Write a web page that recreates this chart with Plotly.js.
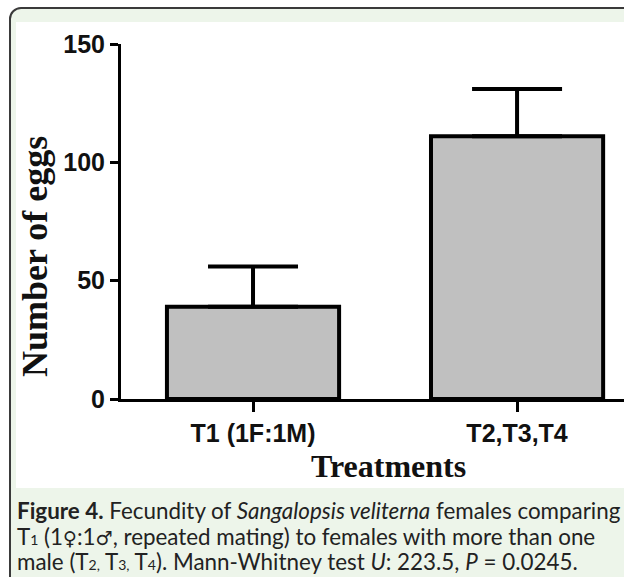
<!DOCTYPE html>
<html>
<head>
<meta charset="utf-8">
<script src="https://cdn.plot.ly/plotly-3.0.1.min.js"></script>
<style>
  html, body { margin: 0; padding: 0; width: 624px; height: 577px; overflow: hidden; background: #ffffff; }
  #frame { position: absolute; left: 9px; top: 7px; width: 720px; height: 720px;
           border: 2px solid #3a3a3a; border-radius: 12px; background: #edf5ea; box-sizing: border-box; }
  #panel { position: absolute; left: 16px; top: 22px; width: 608px; height: 466px; background: #ffffff; }
  #chart { position: absolute; left: 0; top: 0; width: 624px; height: 577px; }
</style>
</head>
<body>
<div id="frame"></div>
<div id="panel"></div>
<div id="chart"></div>
<script>
// ---- data ----
const categories = ["T1 (1F:1M)", "T2,T3,T4"];
const meanEggs = [39, 111];
const errEggs = [17, 20];
const yTickVals = [0, 50, 100, 150];
const yTitle = "Number of eggs";
const xTitle = "Treatments";
const sym = s => '<span style="font-family:\'DejaVu Sans\';font-size:19px">' + s + '</span>';
const sm = s => '<span style="font-size:14px">' + s + '</span>';
const captionLines = [
  "<b>Figure 4.</b> Fecundity of <i>Sangalopsis veliterna</i> females comparing",
  "T" + sm("1") + " (1" + sym("\u2640") + ":1" + sym("\u2642") + ", repeated mating) to females with more than one",
  "male (T" + sm("2,") + " T" + sm("3,") + " T" + sm("4") + "). Mann-Whitney test <i>U</i>: 223.5, <i>P</i> = 0.0245."
];

// ---- layout geometry (pixels) ----
const W = 624, H = 577;
const L = 121, R = 0, T = 44, B = 178;
const pw = W - L - R, ph = H - T - B;
const px = v => (v - L) / pw;          // page x pixel -> paper x
const py = v => (H - B - v) / ph;      // page y pixel -> paper y

const trace = {
  type: "bar",
  x: categories,
  y: meanEggs,
  width: 0.652,
  marker: { color: "#c0c0c0", line: { color: "#000000", width: 4 } },
  error_y: { type: "data", symmetric: false, array: errEggs, arrayminus: [0, 0],
             color: "#000000", thickness: 4, width: 45 },
  hoverinfo: "none"
};

const capFont = { family: "Lato, 'Open Sans', sans-serif", size: 22.4, color: "#222222" };
const annotations = [
  { xref: "paper", yref: "paper", x: px(35), y: py(257), text: "<b>" + yTitle + "</b>",
    textangle: -90, showarrow: false, xanchor: "center", yanchor: "middle",
    font: { family: "'Liberation Serif', 'Times New Roman', serif", size: 36, color: "#111111" } },
  { xref: "paper", yref: "paper", x: px(388), y: py(466), text: "<b>" + xTitle + "</b>",
    showarrow: false, xanchor: "center", yanchor: "middle",
    font: { family: "'Liberation Serif', 'Times New Roman', serif", size: 32, color: "#111111" } }
];
const capY = [510, 536, 561];
captionLines.forEach((t, i) => {
  annotations.push({ xref: "paper", yref: "paper", x: px(15), y: py(capY[i]), text: t,
    showarrow: false, xanchor: "left", yanchor: "middle", align: "left", font: capFont });
});

const tickFont = { family: "'Liberation Sans', Arial, sans-serif", size: 25, color: "#111111", weight: 700 };
const layout = {
  width: W, height: H,
  margin: { l: L, r: R, t: T, b: B, pad: 0 },
  paper_bgcolor: "rgba(0,0,0,0)",
  plot_bgcolor: "rgba(0,0,0,0)",
  showlegend: false,
  xaxis: {
    type: "category", range: [-0.5, 1.405], fixedrange: true,
    showline: true, linecolor: "#000000", linewidth: 3,
    ticks: "outside", ticklen: 10, tickwidth: 3, tickcolor: "#000000",
    showgrid: false, zeroline: false, tickfont: tickFont
  },
  yaxis: {
    range: [0, 150], tickvals: yTickVals, fixedrange: true,
    showline: true, linecolor: "#000000", linewidth: 3,
    ticks: "outside", ticklen: 8, tickwidth: 3, tickcolor: "#000000",
    showgrid: false, zeroline: false, tickfont: tickFont
  },
  annotations: annotations
};

Plotly.newPlot("chart", [trace], layout, { staticPlot: true, displayModeBar: false });
</script>
</body>
</html>
